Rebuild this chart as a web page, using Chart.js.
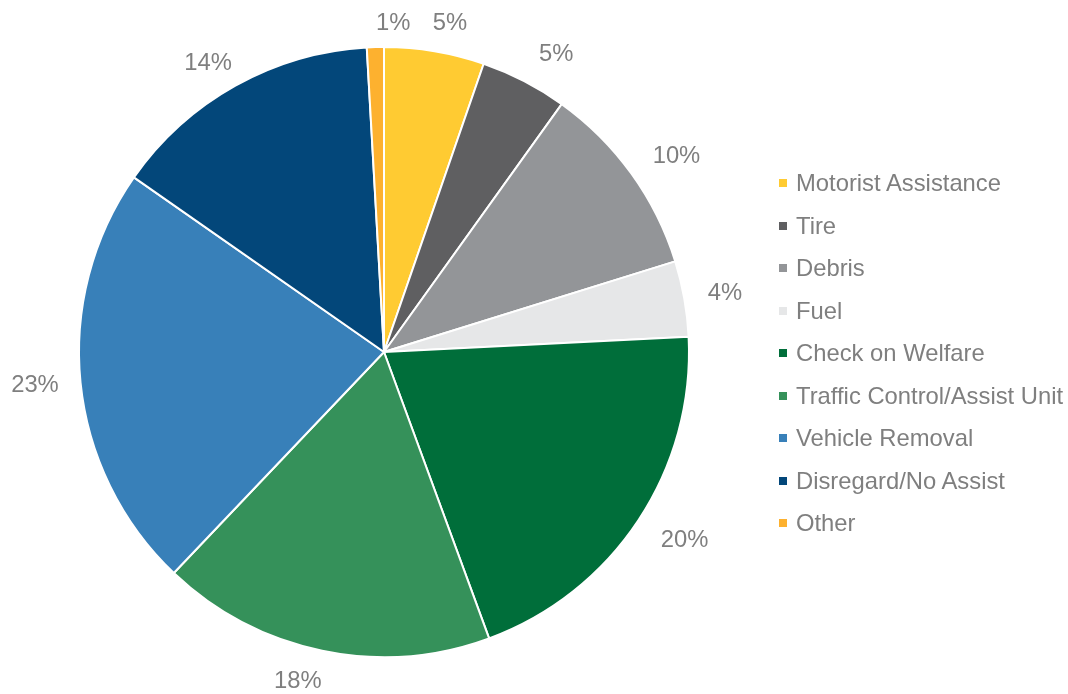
<!DOCTYPE html>
<html>
<head>
<meta charset="utf-8">
<script src="https://cdn.jsdelivr.net/npm/chart.js@4/dist/chart.umd.min.js"></script>
<style>
  html, body { margin: 0; padding: 0; background: #fff; }
  #wrap { position: relative; width: 1068px; height: 694px; }
  #legend { position: absolute; left: 779px; top: 162px; font-family: "Liberation Sans", Arial, sans-serif; font-size: 23.8px; color: #7f7f7f; }
  .item { height: 42.5px; display: flex; align-items: center; white-space: nowrap; }
  .box { width: 8px; height: 8px; margin-right: 9px; flex: none; }
</style>
</head>
<body>
<div id="wrap">
  <canvas id="pie" width="1068" height="694"></canvas>
  <div id="legend"></div>
</div>
<script>
const labels = ["Motorist Assistance", "Tire", "Debris", "Fuel", "Check on Welfare",
  "Traffic Control/Assist Unit", "Vehicle Removal", "Disregard/No Assist", "Other"];
const values = [5.3, 4.6, 10.3, 4.0, 20.2, 17.7, 22.6, 14.4, 0.9];
const pctLabels = ["5%", "5%", "10%", "4%", "20%", "18%", "23%", "14%", "1%"];
const colors = ["#FFCB32", "#5F5F61", "#939598", "#E6E7E8", "#006E3A",
  "#35915A", "#3880B9", "#03477A", "#FDB12F"];

// small shifts so labels sit where the original placed them (px)
const labelNudge = [[9, 2], [14, 0], [8, 1], [2, 0], [8, 3], [-15, 1], [0, 0], [-5, 4], [19, 7]];

// percent labels outside each slice
const outLabels = {
  id: "outLabels",
  afterDraw(chart) {
    const ctx = chart.ctx;
    const meta = chart.getDatasetMeta(0);
    ctx.save();
    ctx.font = "23.8px 'Liberation Sans', Arial, sans-serif";
    ctx.fillStyle = "#7f7f7f";
    ctx.textAlign = "center";
    ctx.textBaseline = "middle";
    meta.data.forEach((arc, i) => {
      const p = arc.getProps(["x", "y", "startAngle", "endAngle", "outerRadius"], true);
      const mid = (p.startAngle + p.endAngle) / 2;
      const ux = Math.cos(mid), uy = Math.sin(mid);
      const w = ctx.measureText(pctLabels[i]).width;
      const h = 17;
      const r = p.outerRadius + 22;
      const x = p.x + r * ux + (w / 2) * ux + labelNudge[i][0];
      const y = p.y + r * uy + (h / 2) * uy + labelNudge[i][1];
      ctx.fillText(pctLabels[i], x, y);
    });
    ctx.restore();
  }
};

new Chart(document.getElementById("pie"), {
  type: "pie",
  data: {
    labels,
    datasets: [{
      data: values,
      backgroundColor: colors,
      borderColor: "#ffffff",
      borderWidth: 2
    }]
  },
  options: {
    responsive: false,
    animation: false,
    radius: 305,
    layout: { padding: { left: 79, right: 379, top: 47, bottom: 37 } },
    plugins: { legend: { display: false }, tooltip: { enabled: false } }
  },
  plugins: [outLabels]
});

const legend = document.getElementById("legend");
labels.forEach((l, i) => {
  const row = document.createElement("div");
  row.className = "item";
  row.innerHTML = '<span class="box" style="background:' + colors[i] + '"></span>' + l;
  legend.appendChild(row);
});
</script>
</body>
</html>
